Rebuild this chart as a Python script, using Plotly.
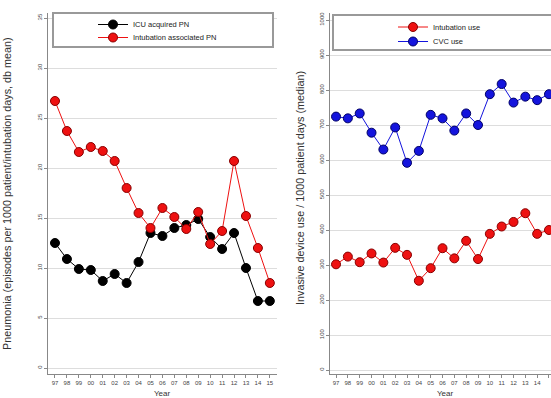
import plotly.graph_objects as go

years = ["97", "98", "99", "00", "01", "02", "03", "04", "05", "06", "07", "08", "09", "10", "11", "12", "13", "14", "15"]

icu_pn = [12.5, 10.9, 9.9, 9.8, 8.7, 9.4, 8.5, 10.6, 13.5, 13.2, 14.0, 14.3, 14.9, 13.1, 11.9, 13.5, 10.0, 6.7, 6.7]
intub_pn = [26.7, 23.7, 21.6, 22.1, 21.7, 20.7, 18.0, 15.5, 14.0, 16.0, 15.1, 13.9, 15.6, 12.4, 13.7, 20.7, 15.2, 12.0, 8.5]

intub_use = [302, 324, 308, 333, 307, 349, 329, 255, 291, 348, 319, 369, 317, 389, 410, 423, 448, 389, 400]
cvc_use = [724, 719, 733, 678, 630, 693, 592, 626, 729, 719, 684, 733, 700, 788, 817, 764, 781, 771, 788]

left_ticks = [0, 5, 10, 15, 20, 25, 30, 35]
right_ticks = [0, 100, 200, 300, 400, 500, 600, 700, 800, 900, 1000]

W, H = 551, 398
def px(x):
    return x / W
def py(y):
    return 1 - y / H

idx = list(range(len(years)))

fig = go.Figure()

def add(y, name, color, edge, xa, ya, leg):
    fig.add_trace(go.Scatter(
        x=idx, y=y, name=name, mode="lines+markers",
        line=dict(color=color, width=1),
        marker=dict(color=color, size=9, line=dict(color=edge, width=1)),
        xaxis=xa, yaxis=ya, legend=leg, cliponaxis=True, showlegend=True,
    ))

add(icu_pn, "ICU acquired PN", "#000000", "#000000", "x", "y", "legend")
add(intub_pn, "Intubation associated PN", "#ee1111", "#880000", "x", "y", "legend2")
add(intub_use, "Intubation use", "#ee1111", "#880000", "x2", "y2", "legend3")
add(cvc_use, "CVC use", "#1414dd", "#000066", "x2", "y2", "legend4")

tickfont = dict(family="Liberation Sans, Arial, sans-serif", size=6, color="#444444")
axcol = "#888888"
gridcol = "#dddddd"

xcommon = dict(
    tickmode="array", tickvals=idx, ticktext=years, tickfont=tickfont,
    showline=True, linecolor=axcol, linewidth=1, ticks="outside", ticklen=3,
    tickcolor=axcol, showgrid=False, zeroline=False, automargin=False, tickangle=0,
)
ycommon = dict(
    tickfont=tickfont, showline=True, linecolor=axcol, linewidth=1,
    ticks="outside", ticklen=3, tickcolor=axcol, showgrid=True, gridcolor=gridcol,
    gridwidth=1, zeroline=False, automargin=False, tickangle=-90,
)

ydom = [py(374), py(13)]

def leg(x, y):
    return dict(x=px(x), y=py(y), xanchor="left", yanchor="middle",
                bgcolor="rgba(0,0,0,0)", borderwidth=0, visible=True,
                font=dict(size=7.5, color="#222222"), tracegroupgap=0)

fig.update_layout(
    width=W, height=H,
    margin=dict(l=0, r=0, t=0, b=0),
    paper_bgcolor="white", plot_bgcolor="white",
    template="none",
    showlegend=True,
    font=dict(family="Liberation Sans, Arial, sans-serif", color="#333333"),
    xaxis=dict(domain=[px(48), px(277)], range=[-0.586, 18.6], anchor="y", **xcommon),
    yaxis=dict(domain=ydom, range=[-0.6, 35.5], anchor="x", tickvals=left_ticks, **ycommon),
    xaxis2=dict(domain=[px(330), 1.0], range=[-0.51, 18.17], anchor="y2", **xcommon),
    yaxis2=dict(domain=ydom, range=[-11.4, 1020], anchor="x2", tickvals=right_ticks, **ycommon),
    legend=leg(93, 24.5),
    legend2=leg(93, 37.5),
    legend3=leg(393, 27),
    legend4=leg(393, 41.5),
    shapes=[
        dict(type="rect", xref="paper", yref="paper", x0=px(53), x1=px(273), y0=py(47), y1=py(13),
             line=dict(color="#999999", width=2), fillcolor="white", layer="above"),
        dict(type="rect", xref="paper", yref="paper", x0=px(333), x1=px(552), y0=py(50), y1=py(15),
             line=dict(color="#999999", width=2), fillcolor="white", layer="above"),
    ],
    annotations=[
        dict(text="Pneumonia (episodes per 1000 patient/intubation days, db mean)",
             x=px(7), y=py(194), xref="paper", yref="paper", showarrow=False, textangle=-90,
             xanchor="center", yanchor="middle", font=dict(size=10.8, color="#333333")),
        dict(text="Invasive device use / 1000 patient days (median)",
             x=px(300), y=py(188), xref="paper", yref="paper", showarrow=False, textangle=-90,
             xanchor="center", yanchor="middle", font=dict(size=10.8, color="#333333")),
        dict(text="Year", x=px(162), y=py(393), xref="paper", yref="paper", showarrow=False,
             xanchor="center", yanchor="middle", font=dict(size=8, color="#333333")),
        dict(text="Year", x=px(445), y=py(393), xref="paper", yref="paper", showarrow=False,
             xanchor="center", yanchor="middle", font=dict(size=8, color="#333333")),
    ],
)

fig.write_html("out.html", config={"displayModeBar": False},
               post_script="document.body.style.margin='0';document.body.style.overflow='hidden';")
